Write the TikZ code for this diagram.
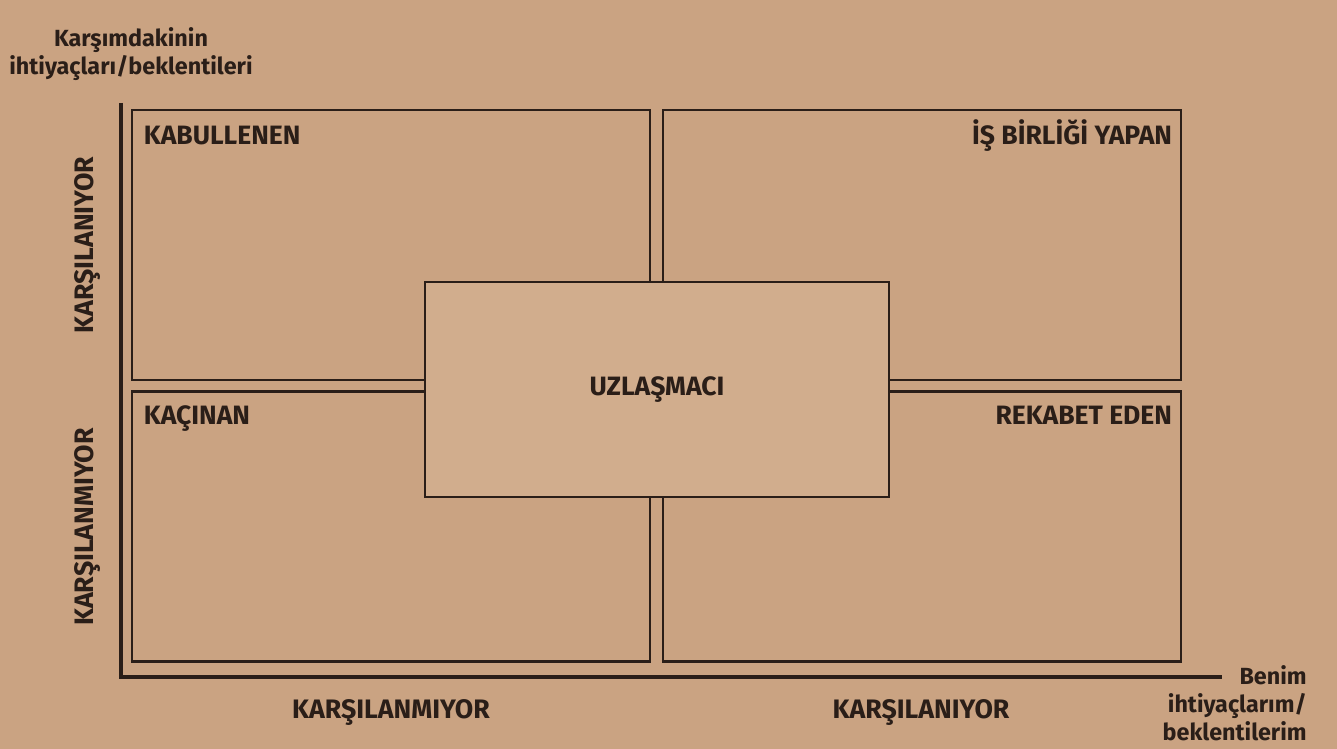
\documentclass[tikz,border=0pt]{standalone}
\usepackage{fontspec}
\setmainfont{Fira Sans}
\usetikzlibrary{positioning}
\definecolor{kraft}{RGB}{202,163,130}
\definecolor{kraftlight}{RGB}{209,173,141}
\definecolor{ink}{RGB}{42,30,24}

\begin{document}
\begin{tikzpicture}[
        x=0.02cm, y=-0.02cm,
        every node/.style={text=ink, inner sep=0pt},
        quad/.style={rectangle, draw=ink, line width=1.6pt, minimum width=10.36cm, minimum height=5.4cm},
        mid/.style={rectangle, draw=ink, line width=1.6pt, fill=kraftlight, minimum width=9.28cm, minimum height=4.3cm},
        tag/.style={font=\fontsize{15.1}{16}\selectfont\bfseries},
        axistag/.style={font=\fontsize{15.2}{16}\selectfont\bfseries},
        note/.style={font=\fontsize{13.3}{15.9}\selectfont\bfseries},
        axisline/.style={draw=ink, line width=2.2pt}
    ]
        \fill[kraft] (0,0) rectangle (1337,749);
        \useasboundingbox (0,0) rectangle (1337,749);

        \node[quad] (tl) at (391,245) {};
        \node[quad] (tr) at (922,245) {};
        \node[quad] (bl) at (391,526.5) {};
        \node[quad] (br) at (922,526.5) {};
        \node[mid] (uz) at (657,389.5) {};

        \node[tag, anchor=base west] (kabul) at ([shift={(13,36)}]tl.north west) {KABULLENEN};
        \node[tag, anchor=base east] (isbir) at ([shift={(-10,36)}]tr.north east) {İŞ BİRLİĞİ YAPAN};
        \node[tag, anchor=base west] (kacin) at ([shift={(13,34)}]bl.north west) {KAÇINAN};
        \node[tag, anchor=base east] (rekab) at ([shift={(-10,34)}]br.north east) {REKABET EDEN};
        \node[tag] (uzlas) at (uz.center) {UZLAŞMACI};

        \coordinate (ytop) at (121,103);
        \coordinate (xend) at (1222,677);
        \draw[axisline] (ytop) |- (xend);

        \node[axistag, rotate=90] (yhigh) at (88,245) {KARŞILANIYOR};
        \node[axistag, rotate=90] (ylow) at (88,527) {KARŞILANMIYOR};
        \node[axistag] (xlow) at (391,713) {KARŞILANMIYOR};
        \node[axistag] (xhigh) at (921,713) {KARŞILANIYOR};

        \node[note, align=center] (ytitle) at (131,54) {Karşımdakinin\\ihtiyaçları/beklentileri};
        \node[note, align=right, anchor=east] (xtitle) at (1307,703) {Benim\\ihtiyaçlarım/\\beklentilerim};
    \end{tikzpicture}
\end{document}
